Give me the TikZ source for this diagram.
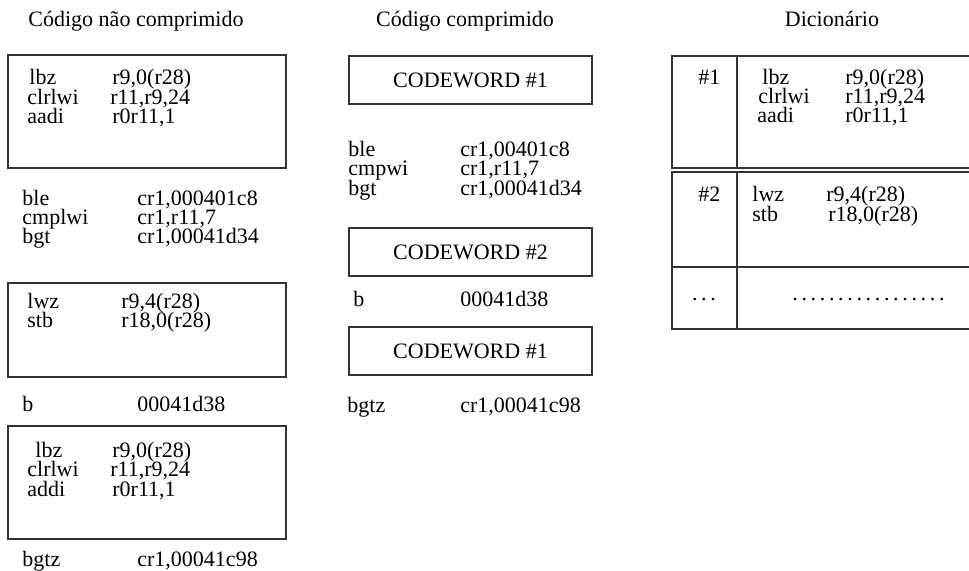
\documentclass[tikz,border=0pt]{standalone}
\usepackage{fontspec}
\setmainfont{Liberation Serif}

\begin{document}
\begin{tikzpicture}[x=0.5pt,y=-0.5pt,
  code/.style={anchor=base west,inner sep=0pt,font=\fontsize{11}{13}\selectfont},
  head/.style={anchor=base,inner sep=0pt,font=\fontsize{11}{13}\selectfont},
  frame/.style={draw=black!80,line width=0.6pt},
  cwbox/.style={frame,minimum width=121.5pt,minimum height=24pt,inner sep=0pt,
    font=\fontsize{11}{13}\selectfont}]
\useasboundingbox (0,0) rectangle (969,571);
% column headings
\node[head] (titA) at (136,27) {Código não comprimido};
\node[head] (titB) at (465,27) {Código comprimido};
\node[head] (titC) at (832,27) {Dicionário};
% uncompressed code: three boxed blocks with loose lines between them
\draw[frame] (8,55) rectangle (286,168);
\draw[frame] (8,283) rectangle (286,377);
\draw[frame] (8,426) rectangle (286,539);
\foreach \xa/\xb/\y/\op/\arg [count=\i] in {%
  29/112/85/lbz/{r9,0(r28)},%
  27/110/105/clrlwi/{r11,r9,24},%
  27/112/124/aadi/{r0r11,1},%
  22/137/206/ble/{cr1,000401c8},%
  22/137/225/cmplwi/{cr1,r11,7},%
  22/137/244/bgt/{cr1,00041d34},%
  27/121/309/lwz/{r9,4(r28)},%
  27/121/328/stb/{r18,0(r28)},%
  22/137/412/b/00041d38,%
  35/112/458/lbz/{r9,0(r28)},%
  27/110/477/clrlwi/{r11,r9,24},%
  27/112/496/addi/{r0r11,1},%
  22/137/566/bgtz/{cr1,00041c98}}{
  \node[code] (nc\i) at (\xa,\y) {\op};
  \node[code] (nca\i) at (\xb,\y) {\arg};
}
% compressed code: codewords replace the boxed blocks
\node[cwbox] (cw1) at (470.5,80) {CODEWORD \#1};
\node[cwbox] (cw2) at (470.5,252) {CODEWORD \#2};
\node[cwbox] (cw3) at (470.5,351) {CODEWORD \#1};
\foreach \xa/\xb/\y/\op/\arg [count=\i] in {%
  348/460/157/ble/{cr1,00401c8},%
  348/460/176/cmpwi/{cr1,r11,7},%
  348/460/196/bgt/{cr1,00041d34},%
  353/460/307/b/00041d38,%
  347/460/413/bgtz/{cr1,00041c98}}{
  \node[code] (cc\i) at (\xa,\y) {\op};
  \node[code] (cca\i) at (\xb,\y) {\arg};
}
% dictionary table, runs off the right edge
\draw[frame] (969,56) -| (672,168) -- (969,168);
\draw[frame] (737,56) -- (737,168);
\draw[frame] (969,172) -| (672,329) -- (969,329);
\draw[frame] (672,267) -- (969,267);
\draw[frame] (737,172) -- (737,329);
\node[code] (key1) at (698,85) {\#1};
\node[code] (key2) at (698,202) {\#2};
\node[head] (key3) at (704,301) {.\,.\,.};
\foreach \xa/\xb/\y/\op/\arg [count=\i] in {%
  762/845/85/lbz/{r9,0(r28)},%
  758/845/104/clrlwi/{r11,r9,24},%
  757/845/123/aadi/{r0r11,1},%
  752/826/202/lwz/{r9,4(r28)},%
  752/828/222/stb/{r18,0(r28)}}{
  \node[code] (dc\i) at (\xa,\y) {\op};
  \node[code] (dca\i) at (\xb,\y) {\arg};
}
\node[code] (dots) at (792,301) {.\,.\,.\,.\,.\,.\,.\,.\,.\,.\,.\,.\,.\,.\,.\,.\,.};
\end{tikzpicture}
\end{document}
